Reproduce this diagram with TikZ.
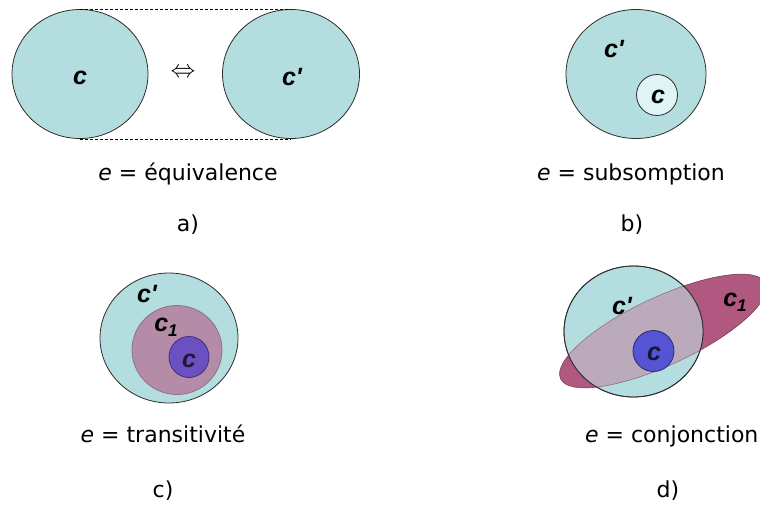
\documentclass[tikz,border=0pt]{standalone}
\usepackage{fontspec}
\setmainfont{DejaVu Sans}
\newfontfamily\lblfont{Liberation Sans}
\usetikzlibrary{shapes.geometric}

\definecolor{setcyan}{RGB}{180,221,223}
\definecolor{setpale}{RGB}{222,244,246}
\definecolor{setmauve}{RGB}{180,140,168}
\definecolor{setpurple}{RGB}{106,80,192}
\definecolor{setpink}{RGB}{176,88,127}
\definecolor{setmix}{RGB}{186,170,188}
\definecolor{setblue}{RGB}{84,84,212}
\definecolor{rim}{RGB}{45,45,45}

\tikzset{
  concept/.style={ellipse, draw=rim, line width=0.8pt, fill=setcyan, inner sep=0pt},
  lbl/.style={font=\lblfont\bfseries\itshape\fontsize{25}{25}\selectfont, inner sep=0pt},
  caption/.style={font=\fontsize{22}{26}\selectfont, anchor=base, inner sep=0pt}
}
\newcommand{\cone}{c\raisebox{-0.35ex}{\fontsize{17}{17}\selectfont 1}}

\begin{document}
\begin{tikzpicture}[x=1pt, y=-1pt]
    \useasboundingbox (0,0) rectangle (760,504);

    % a) equivalence
    \node[concept, minimum width=136pt, minimum height=129pt] (aC) at (80,74) {};
    \node[concept, minimum width=137pt, minimum height=129pt] (aCp) at (291,74) {};
    \draw[dash pattern=on 3pt off 2pt, line width=0.6pt] (aC.north) -- (aCp.north);
    \draw[dash pattern=on 3pt off 2pt, line width=0.6pt] (aC.south) -- (aCp.south);
    \node[lbl] (aCl) at (80,78) {c};
    \node[lbl] (aCpl) at (292,77) {c'};
    \node[font=\fontsize{26}{26}\selectfont] (aEq) at (183,73) {$\Leftrightarrow$};
    \node[caption] (aCap) at (188,180) {\textit{e} = équivalence};
    \node[caption] (aTag) at (188,231) {a)};

    % b) subsomption
    \node[concept, minimum width=140pt, minimum height=129pt] (bCp) at (636,74) {};
    \node[concept, fill=setpale, minimum width=41pt, minimum height=41pt] (bC) at (657,95) {};
    \node[lbl] (bCpl) at (614,49) {c'};
    \node[lbl] (bCl) at (658,97) {c};
    \node[caption] (bCap) at (631,180) {\textit{e} = subsomption};
    \node[caption] (bTag) at (632,231) {b)};

    % c) transitivite
    \node[concept, minimum width=138pt, minimum height=130pt] (cCp) at (169,338) {};
    \node[concept, fill=setmauve, draw=setmauve!80!black, minimum width=90pt, minimum height=89pt] (cC1) at (177,350) {};
    \node[concept, fill=setpurple, draw=setpurple!60!black, minimum width=40pt, minimum height=41pt] (cC) at (189,357) {};
    \node[lbl] (cCpl) at (147,294) {c'};
    \node[lbl] (cC1l) at (166,327) {\cone};
    \node[lbl, text=setpurple!30!black] (cCl) at (189,361) {c};
    \node[caption] (cCap) at (163,442) {\textit{e} = transitivité};
    \node[caption] (cTag) at (163,497) {c)};

    % d) conjonction
    \node[ellipse, rotate=25, fill=setpink, draw=setpink!70!black, line width=0.6pt,
          minimum width=226pt, minimum height=68pt, inner sep=0pt] (dC1) at (663,331) {};
    \node[concept, minimum width=139pt, minimum height=131pt] (dCp) at (633.5,331.5) {};
    \begin{scope}
        \clip (dCp.center) ellipse [x radius=69.5, y radius=65.5];
        \node[ellipse, rotate=25, fill=setmix, draw=setpink!40!gray, line width=0.6pt,
              minimum width=226pt, minimum height=68pt, inner sep=0pt] (dMix) at (dC1.center) {};
    \end{scope}
    \draw[rim, line width=0.8pt] (dCp.center) ellipse [x radius=69.5, y radius=65.5];
    \node[concept, fill=setblue, draw=setblue!50!black, minimum width=41pt, minimum height=41pt] (dC) at (653.5,351) {};
    \node[lbl] (dCpl) at (622,306) {c'};
    \node[lbl] (dC1l) at (735,302) {\cone};
    \node[lbl, text=setblue!25!black] (dCl) at (654,354) {c};
    \node[caption, anchor=base west] (dCap) at (585,442) {\textit{e} = conjonction};
    \node[caption] (dTag) at (668,497) {d)};
\end{tikzpicture}
\end{document}
